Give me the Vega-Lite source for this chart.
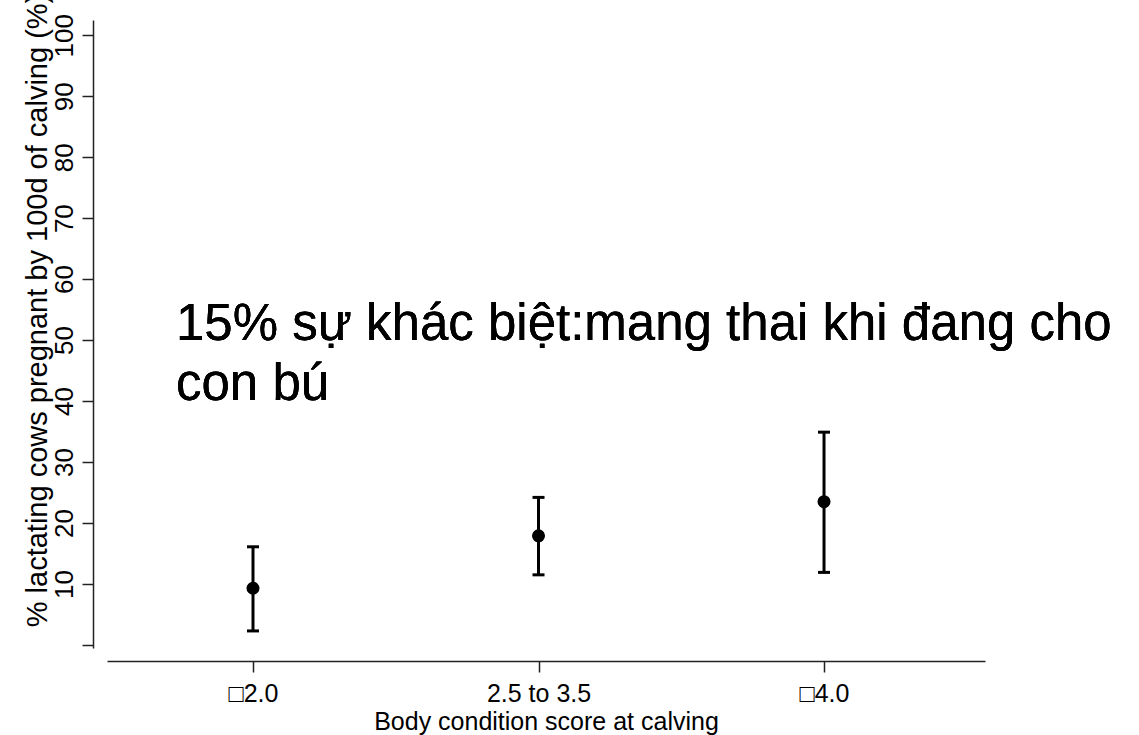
{
  "$schema": "https://vega.github.io/schema/vega-lite/v6.json",
  "width": 878,
  "height": 628,
  "autosize": {"type": "none"},
  "padding": {"left": 107, "top": 20, "right": 154, "bottom": 87},
  "background": "white",
  "config": {
    "view": {"stroke": null},
    "font": "Liberation Sans",
    "axis": {
      "grid": false,
      "domainColor": "#222222",
      "domainWidth": 1.5,
      "tickColor": "#222222",
      "tickWidth": 1.5,
      "tickSize": 11,
      "labelColor": "#000000",
      "titleColor": "#000000",
      "titleFontWeight": "normal",
      "labelOverlap": false,
      "labelFlush": false,
      "labelBound": false
    }
  },
  "data": {
    "values": [
      {"bcs": "□2.0", "pct": 9.3, "lo": 2.3, "hi": 16.1},
      {"bcs": "2.5 to 3.5", "pct": 17.9, "lo": 11.5, "hi": 24.2},
      {"bcs": "□4.0", "pct": 23.5, "lo": 11.9, "hi": 34.9}
    ]
  },
  "encoding": {
    "x": {
      "field": "bcs",
      "type": "nominal",
      "sort": null,
      "scale": {"type": "point", "padding": 0.5376, "align": 0.4756},
      "axis": {
        "title": "Body condition score at calving",
        "labelAngle": 0,
        "labelFontSize": 25,
        "titleFontSize": 25,
        "offset": 13,
        "labelPadding": 9,
        "titlePadding": 3
      }
    }
  },
  "layer": [
    {
      "mark": {"type": "rule", "color": "black", "strokeWidth": 3},
      "encoding": {
        "y": {
          "field": "lo",
          "type": "quantitative",
          "scale": {"domain": [-0.5, 102.5], "nice": false, "zero": false},
          "axis": {
            "title": "% lactating cows pregnant by 100d of calving (%)",
            "values": [0, 10, 20, 30, 40, 50, 60, 70, 80, 90, 100],
            "labelExpr": "datum.value == 0 ? '' : datum.label",
            "labelAngle": -90,
            "labelAlign": "center",
            "labelBaseline": "bottom",
            "labelFontSize": 26,
            "labelPadding": 5,
            "offset": 14,
            "titleFontSize": 29,
            "titleAngle": -90,
            "titleAlign": "center",
            "titleBaseline": "alphabetic",
            "titleX": -47,
            "titleY": 290
          }
        },
        "y2": {"field": "hi"}
      }
    },
    {
      "mark": {"type": "tick", "color": "black", "thickness": 3, "size": 12, "orient": "horizontal", "opacity": 1},
      "encoding": {"y": {"field": "lo", "type": "quantitative"}}
    },
    {
      "mark": {"type": "tick", "color": "black", "thickness": 3, "size": 12, "orient": "horizontal", "opacity": 1},
      "encoding": {"y": {"field": "hi", "type": "quantitative"}}
    },
    {
      "mark": {"type": "circle", "color": "black", "opacity": 1, "size": 170},
      "encoding": {"y": {"field": "pct", "type": "quantitative"}}
    },
    {
      "mark": {
        "type": "text",
        "align": "left",
        "baseline": "alphabetic",
        "fontSize": 51,
        "lineHeight": 60,
        "dx": -77,
        "color": "black",
        "text": ["15% sự khác biệt:mang thai khi đang cho", "con bú"]
      },
      "encoding": {"x": {"datum": "□2.0"}, "y": {"datum": 50}}
    }
  ]
}
